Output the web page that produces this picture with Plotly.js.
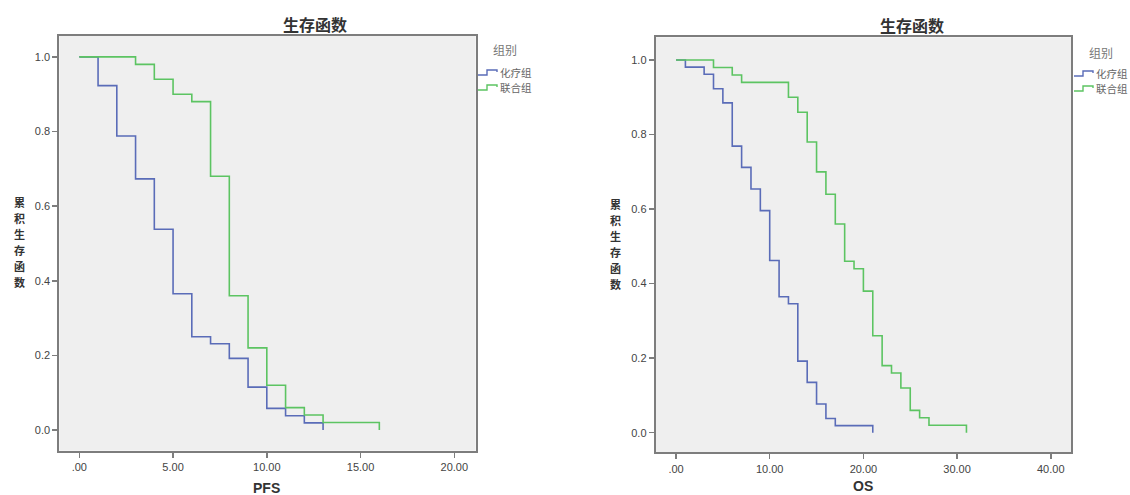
<!DOCTYPE html>
<html>
<head>
<meta charset="utf-8">
<script src="https://cdn.plot.ly/plotly-3.0.1.min.js"></script>
<style>html,body{margin:0;padding:0;background:#fff;}#chart{width:1130px;height:495px;}</style>
</head>
<body>
<div id="chart"></div>
<script>
// ---- data ----
const groupNames = ['化疗组', '联合组'];
const pfsTimeChemo = [0, 1, 2, 3, 4, 5, 6, 7, 8, 9, 10, 11, 12, 13];
const pfsSurvChemo = [1, 0.923, 0.788, 0.673, 0.538, 0.365, 0.25, 0.231, 0.192, 0.115, 0.058, 0.038, 0.019, 0];
const pfsTimeComb = [0, 3, 4, 5, 6, 7, 8, 9, 10, 11, 12, 13, 16];
const pfsSurvComb = [1, 0.98, 0.94, 0.90, 0.88, 0.68, 0.36, 0.22, 0.12, 0.06, 0.04, 0.02, 0];
const osTimeChemo = [0, 1, 3, 4, 5, 6, 7, 8, 9, 10, 11, 12, 13, 14, 15, 16, 17, 21];
const osSurvChemo = [1, 0.981, 0.962, 0.923, 0.885, 0.769, 0.712, 0.654, 0.596, 0.462, 0.365, 0.346, 0.192, 0.135, 0.077, 0.038, 0.019, 0];
const osTimeComb = [0, 4, 6, 7, 12, 13, 14, 15, 16, 17, 18, 19, 20, 21, 22, 23, 24, 25, 26, 27, 31];
const osSurvComb = [1, 0.98, 0.96, 0.94, 0.90, 0.86, 0.78, 0.70, 0.64, 0.56, 0.46, 0.44, 0.38, 0.26, 0.18, 0.16, 0.12, 0.06, 0.04, 0.02, 0];
const pfsTickVals = [0, 5, 10, 15, 20];
const pfsTickText = ['.00', '5.00', '10.00', '15.00', '20.00'];
const osTickVals = [0, 10, 20, 30, 40];
const osTickText = ['.00', '10.00', '20.00', '30.00', '40.00'];
const yTickVals = [0, 0.2, 0.4, 0.6, 0.8, 1.0];
const yTickText = ['0.0', '0.2', '0.4', '0.6', '0.8', '1.0'];
const chartTitle = '生存函数';
const yTitle = '累积生存函数';
const legendTitle = '组别';

// ---- styling ----
const W = 1130, H = 495;
const px = x => x / W;
const py = y => 1 - y / H;
const BLUE = '#5a6cb8', GREEN = '#5cc462';
const AX = '#7d7d7d';
const tickFont = {family: 'Liberation Sans, Arial, sans-serif', size: 11, color: '#444'};
const cjk = 'Noto Sans CJK SC, sans-serif';

function stepTrace(x, y, color, xa, ya) {
  return {x: x, y: y, type: 'scatter', mode: 'lines', xaxis: xa, yaxis: ya,
    line: {shape: 'hv', color: color, width: 1.6}, showlegend: false, hoverinfo: 'x+y'};
}
const traces = [
  stepTrace(pfsTimeChemo, pfsSurvChemo, BLUE, 'x', 'y'),
  stepTrace(pfsTimeComb, pfsSurvComb, GREEN, 'x', 'y'),
  stepTrace(osTimeChemo, osSurvChemo, BLUE, 'x2', 'y2'),
  stepTrace(osTimeComb, osSurvComb, GREEN, 'x2', 'y2')
];

function xAxis(domain, range, vals, text, anchor) {
  return {domain: domain, range: range, anchor: anchor, tickmode: 'array', tickvals: vals, ticktext: text,
    ticks: 'outside', ticklen: 5, tickwidth: 1.5, tickcolor: AX, showline: true, linecolor: AX, linewidth: 2,
    mirror: true, showgrid: false, zeroline: false, tickfont: tickFont, fixedrange: true};
}
function yAxis(domain, range, anchor) {
  return {domain: domain, range: range, anchor: anchor, tickmode: 'array', tickvals: yTickVals, ticktext: yTickText,
    ticks: 'outside', ticklen: 5, tickwidth: 1.5, tickcolor: AX, showline: true, linecolor: AX, linewidth: 2,
    mirror: true, showgrid: false, zeroline: false, tickfont: tickFont, fixedrange: true};
}

const annotations = [];
const shapes = [];
function addPanelText(titleX, titleY, yTitleX, yTitleY, xTitle, xTitleX, xTitleY, legX, legTitleY, legY) {
  annotations.push({text: '<b>' + chartTitle + '</b>', x: px(titleX), y: py(titleY), xref: 'paper', yref: 'paper',
    showarrow: false, xanchor: 'center', yanchor: 'middle', font: {family: cjk, size: 16, color: '#333'}});
  const chars = Array.from(yTitle);
  const step = 16;
  chars.forEach((ch, i) => {
    const yy = yTitleY + (i - (chars.length - 1) / 2) * step;
    annotations.push({text: '<b>' + ch + '</b>', x: px(yTitleX), y: py(yy), xref: 'paper', yref: 'paper',
      showarrow: false, xanchor: 'center', yanchor: 'middle', borderpad: 0,
      font: {family: cjk, size: 11, color: '#333'}});
  });
  annotations.push({text: '<b>' + xTitle + '</b>', x: px(xTitleX), y: py(xTitleY), xref: 'paper', yref: 'paper',
    showarrow: false, xanchor: 'center', yanchor: 'middle', font: {family: 'Liberation Sans, Arial, sans-serif', size: 14, color: '#333'}});
  annotations.push({text: legendTitle, x: px(legX + 27), y: py(legTitleY), xref: 'paper', yref: 'paper',
    showarrow: false, xanchor: 'center', yanchor: 'middle', font: {family: cjk, size: 12, color: '#777'}});
  [BLUE, GREEN].forEach((c, i) => {
    const yy = legY[i];
    const path = 'M ' + px(legX) + ' ' + py(yy + 3) + ' L ' + px(legX + 9) + ' ' + py(yy + 3) +
      ' L ' + px(legX + 9) + ' ' + py(yy - 2) + ' L ' + px(legX + 19) + ' ' + py(yy - 2) +
      ' L ' + px(legX + 19) + ' ' + py(yy);
    shapes.push({type: 'path', xref: 'paper', yref: 'paper', path: path, line: {color: c, width: 1.4}});
    annotations.push({text: groupNames[i], x: px(legX + 20), y: py(yy), xref: 'paper', yref: 'paper',
      showarrow: false, xanchor: 'left', yanchor: 'middle', font: {family: cjk, size: 10.5, color: '#666'}});
  });
}
addPanelText(315, 24, 19.5, 242, 'PFS', 266.7, 488, 478, 50, [72, 87]);
addPanelText(911.7, 25, 615.5, 244, 'OS', 863, 486, 1074, 52, [73, 88]);

const layout = {
  width: W, height: H, margin: {l: 0, r: 0, t: 0, b: 0}, paper_bgcolor: '#ffffff', plot_bgcolor: '#efefef',
  showlegend: false,
  xaxis: xAxis([px(59.3), px(475.7)], [-1.067, 21.14], pfsTickVals, pfsTickText, 'y'),
  yaxis: yAxis([py(450.7), py(36)], [-0.0555, 1.056], 'x'),
  xaxis2: xAxis([px(655.7), px(1071)], [-2.17, 42.16], osTickVals, osTickText, 'y2'),
  yaxis2: yAxis([py(452.3), py(37.3)], [-0.0526, 1.061], 'x2'),
  annotations: annotations, shapes: shapes
};
Plotly.newPlot('chart', traces, layout, {displayModeBar: false, staticPlot: true});
</script>
</body>
</html>
